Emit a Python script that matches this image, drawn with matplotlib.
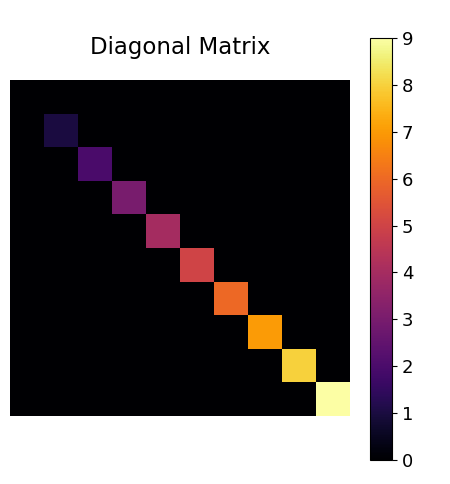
import numpy as np
import matplotlib
matplotlib.use("Agg")
import matplotlib.pyplot as plt

diag_values = [0, 1, 2, 3, 4, 5, 6, 7, 8, 9]
matrix = np.diag(diag_values)

W, H = 450, 484
fig = plt.figure(figsize=(W / 100, H / 100), dpi=100)
ax = fig.add_axes([10 / W, (H - 416) / H, 340 / W, 336 / H])
im = ax.imshow(matrix, cmap="inferno", aspect="auto", vmin=0, vmax=9)
ax.axis("off")
ax.set_title("Diagonal Matrix", fontsize=16.5, pad=19)

cax = fig.add_axes([370 / W, (H - 460) / H, 22 / W, 422 / H])
cb = fig.colorbar(im, cax=cax, ticks=range(0, 10))
cb.ax.tick_params(labelsize=13)

fig.savefig("out.png", dpi=100)
